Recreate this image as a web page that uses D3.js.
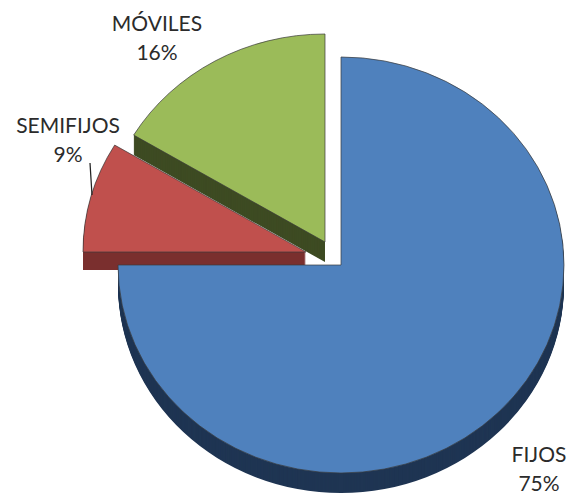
<!DOCTYPE html>
<html>
<head>
<meta charset="utf-8">
<style>
  html, body { margin: 0; padding: 0; background: #fff; }
  svg { display: block; }
  text { font-family: Lato, "Open Sans", sans-serif; font-size: 21px; fill: #2b2b2b; text-anchor: middle; }
</style>
</head>
<body>
<div id="chart"></div>
<script src="https://d3js.org/d3.v7.min.js"></script>
<script>
  var categories = ["FIJOS", "SEMIFIJOS", "MÓVILES"];
  var values = [75, 8.6, 16.4];
  var labels = ["75%", "9%", "16%"];
  var topColors = ["#4F81BD", "#C0504D", "#9BBB59"];
  var sideColors = ["#1F3553", "#7A2F2E", "#3E4B23"];

  var width = 570, height = 498;
  var rx = 223, ry = 208;

  // where each exploded slice sits and where its label goes
  var layout = {
    "FIJOS":     { cx: 341, cy: 265, depth: 20, lx: 539, ly: 462 },
    "SEMIFIJOS": { cx: 306, cy: 252, depth: 18, lx: 68,  ly: 133 },
    "MÓVILES":   { cx: 325, cy: 242, depth: 20, lx: 157, ly: 31 }
  };

  var color = d3.scaleOrdinal().domain(categories).range(topColors);
  var side = d3.scaleOrdinal().domain(categories).range(sideColors);

  var svg = d3.select("#chart").append("svg")
    .attr("width", width)
    .attr("height", height);

  var pie = d3.pie().sort(null).value(function(d) { return d.value; });
  var arc = d3.arc().innerRadius(0).outerRadius(1);

  var data = categories.map(function(c, i) {
    return { name: c, value: values[i], label: labels[i] };
  });

  // painted back to front, blue last so it covers the others' sides
  var slices = pie(data).slice().reverse();

  slices.forEach(function(s) {
    var p = layout[s.data.name];
    var g = svg.append("g").attr("class", "slice");

    // side wall: the same shape stacked downward
    d3.range(p.depth, 0, -1).forEach(function(k) {
      g.append("path")
        .attr("d", arc(s))
        .attr("transform", "translate(" + p.cx + "," + (p.cy + k) + ") scale(" + rx + "," + ry + ")")
        .attr("fill", side(s.data.name));
    });

    g.append("path")
      .attr("d", arc(s))
      .attr("transform", "translate(" + p.cx + "," + p.cy + ") scale(" + rx + "," + ry + ")")
      .attr("fill", color(s.data.name))
      .attr("stroke", "#3a3a3a")
      .attr("stroke-width", 0.7)
      .attr("vector-effect", "non-scaling-stroke");
  });

  // leader line for SEMIFIJOS
  svg.append("line")
    .attr("x1", 90).attr("y1", 163)
    .attr("x2", 92).attr("y2", 195)
    .attr("stroke", "#222")
    .attr("stroke-width", 1.2);

  data.forEach(function(d) {
    var p = layout[d.name];
    var t = svg.append("text").attr("x", p.lx).attr("y", p.ly);
    t.append("tspan").attr("x", p.lx).text(d.name);
    t.append("tspan").attr("x", p.lx).attr("dy", 29).text(d.label);
  });
</script>
</body>
</html>
